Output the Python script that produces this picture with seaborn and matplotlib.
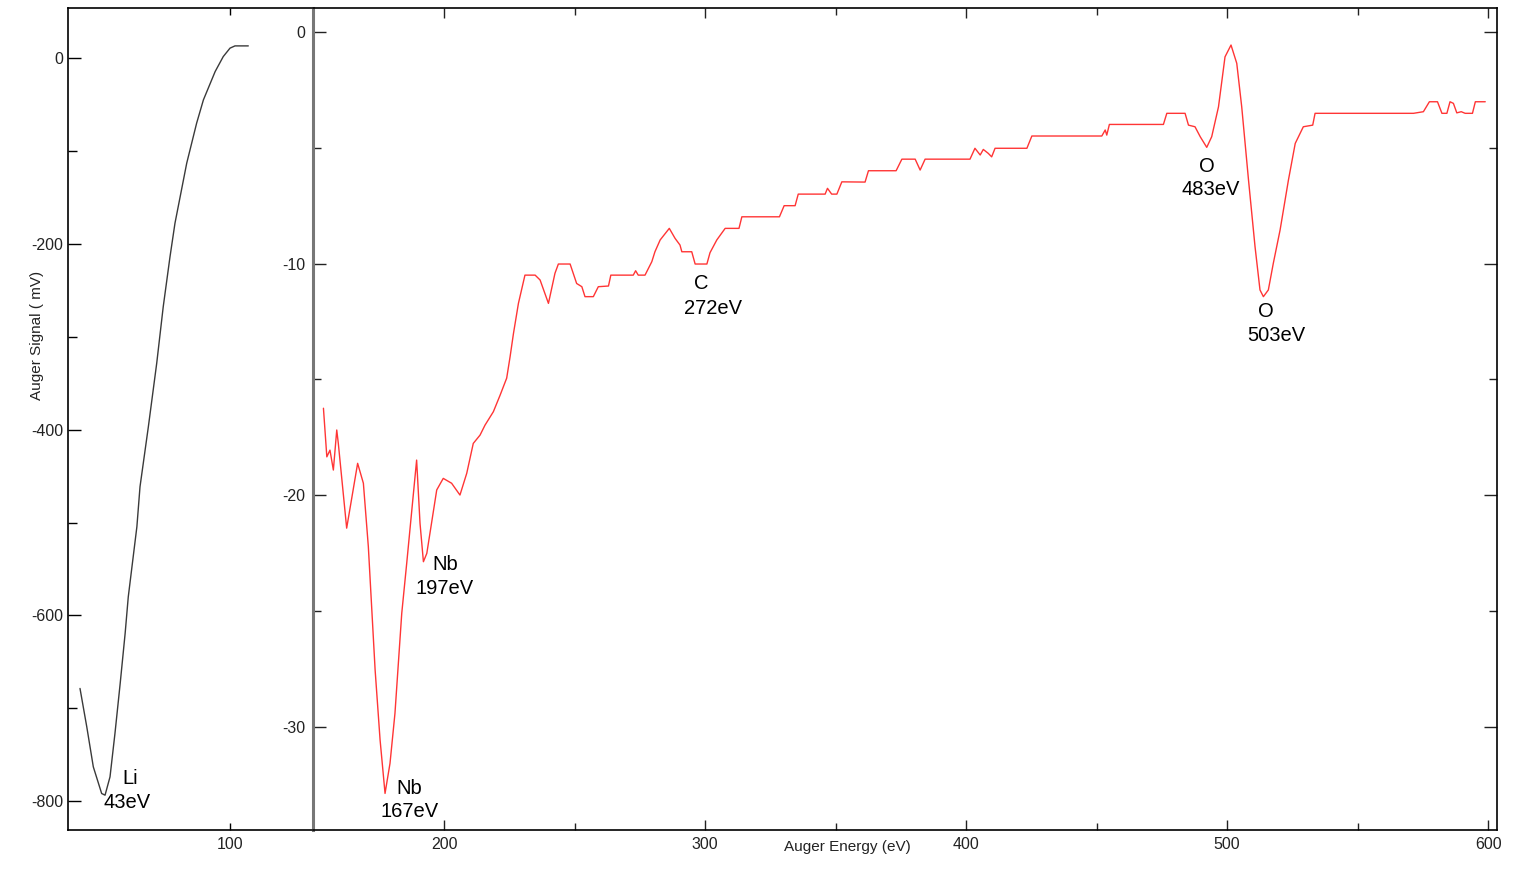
import matplotlib
matplotlib.use("Agg")
import matplotlib.pyplot as plt
from matplotlib.ticker import FixedLocator
import seaborn as sns

# Li region (eV, mV)
li_energy = [42.5, 45.1, 47.6, 50.8, 52.1, 54.0, 55.9, 57.9, 59.8, 61.0, 64.3, 65.5,
             68.7, 71.9, 74.4, 77.0, 78.9, 83.4, 87.2, 89.8, 94.3, 97.4, 100.0,
             101.9, 107.0]
li_signal = [-678.6, -720, -763, -791.7, -793.5, -773.8, -727, -673.2, -619.3, -580,
             -504.5, -461.4, -396.8, -328.5, -267.6, -213.7, -177.7, -113.1, -70,
             -44.9, -14.4, 1.7, 10.8, 13.2, 13.2]

# main spectrum, right panel (eV, mV)
energy = [153.8, 155.1, 156.3, 157.6, 158.9, 159.5, 162.7, 166.9, 169.1, 171.0,
          173.6, 175.5, 177.4, 179.3, 181.2, 183.8, 185.7, 189.5, 190.8, 192.1,
          193.4, 197.2, 199.7, 202.9, 206.1, 208.7, 211.2, 213.8, 215.7, 218.9,
          221.5, 224.0, 225.3, 226.6, 228.5, 231.0, 234.9, 236.8, 240.0, 242.5,
          243.8, 248.3, 250.8, 252.8, 254.0, 257.2, 259.1, 263.0, 263.9, 272.5,
          273.4, 274.4, 277.0, 279.6, 280.8, 282.8, 286.3, 288.5, 290.4, 291.1,
          294.9, 296.2, 300.7, 301.9, 304.5, 307.7, 313.0, 314.1, 328.5, 330.3,
          334.5, 335.7, 346.0, 346.9, 348.5, 350.5, 352.4, 361.3, 362.6, 373.2,
          375.4, 380.5, 382.4, 384.3, 401.5, 403.4, 405.4, 406.6, 408.5, 409.8,
          411.1, 423.3, 425.2, 452.0, 453.3, 453.9, 454.9, 475.6, 476.9, 483.9,
          485.2, 487.7, 489.7, 492.2, 494.1, 496.7, 499.2, 501.5, 503.7, 505.6,
          508.2, 510.7, 512.6, 513.9, 515.8, 517.7, 520.3, 523.5, 526.1, 529.2,
          532.8, 533.7, 571.4, 575.2, 577.5, 580.6, 582.3, 584.2, 585.4, 586.7,
          588.0, 589.7, 591.2, 594.0, 595.1, 598.9]
signal = [-16.25, -18.35, -18.06, -18.92, -17.19, -17.77, -21.43, -18.63, -19.49, -22.23,
          -27.56, -30.58, -32.89, -31.59, -29.43, -25.11, -22.95, -18.49, -21.22, -22.88,
          -22.52, -19.78, -19.28, -19.49, -20.0, -19.06, -17.77, -17.41, -16.98, -16.4,
          -15.68, -14.95, -14.03, -13.02, -11.72, -10.5, -10.5, -10.71, -11.72, -10.42,
          -10.02, -10.02, -10.86, -11.0, -11.43, -11.43, -11.0, -10.97, -10.5, -10.5,
          -10.31, -10.5, -10.5, -9.92, -9.49, -8.98, -8.48, -8.91, -9.2, -9.49,
          -9.49, -10.02, -10.02, -9.53, -8.98, -8.48, -8.48, -7.98, -7.98, -7.5,
          -7.5, -7.0, -7.0, -6.75, -7.0, -7.0, -6.47, -6.48, -5.99, -5.99,
          -5.49, -5.49, -5.96, -5.49, -5.49, -5.02, -5.31, -5.07, -5.24, -5.39,
          -5.02, -5.02, -4.49, -4.49, -4.23, -4.45, -3.99, -3.99, -3.51, -3.51,
          -4.02, -4.09, -4.52, -4.98, -4.52, -3.23, -1.07, -0.56, -1.35, -3.23,
          -6.39, -9.27, -11.14, -11.43, -11.14, -9.99, -8.55, -6.39, -4.81, -4.09,
          -4.02, -3.51, -3.51, -3.44, -3.01, -3.01, -3.51, -3.51, -3.01, -3.08,
          -3.49, -3.44, -3.51, -3.51, -3.01, -3.01]

# peak labels: one entry per text line
li_labels = [("Li", 61.7, -776), ("43eV", 60.4, -801)]
peak_labels = [("Nb", 186.5, -32.67), ("167eV", 186.9, -33.68),
               ("Nb", 200.3, -23.02), ("197eV", 200.3, -24.03),
               ("C", 298.7, -10.86), ("272eV", 302.9, -11.94),
               ("O", 492.2, -5.79), ("483eV", 493.8, -6.79),
               ("O", 514.9, -12.05), ("503eV", 518.8, -13.09)]

sns.set_theme(style="ticks")
plt.rcParams['font.family'] = ['Liberation Sans', 'DejaVu Sans']
plt.rcParams['axes.unicode_minus'] = False

W, H = 1540, 871
fig = plt.figure(figsize=(W / 100, H / 100), dpi=100)
ax1 = fig.add_axes([68 / W, 41 / H, 245 / W, 822 / H])
ax2 = fig.add_axes([313 / W, 41 / H, 1184 / W, 822 / H])

# left panel
sns.lineplot(x=li_energy, y=li_signal, ax=ax1, color="#3a3a3a", linewidth=1.0,
             estimator=None)
ax1.set_xlim(37.9, 131.8)
ax1.set_ylim(-831, 54)
ax1.set_xticks([100])
ax1.set_yticks([0, -200, -400, -600, -800])
ax1.yaxis.set_minor_locator(FixedLocator([-100, -300, -500, -700]))
ax1.tick_params(axis="y", which="major", direction="in", length=9.5, width=1,
                pad=3.5, labelsize=11.5, labelcolor="#222222", color="black")
ax1.tick_params(axis="y", which="minor", direction="in", length=6.5, width=1,
                left=True, color="black")
ax1.tick_params(axis="x", which="major", direction="in", length=5, width=1,
                top=True, bottom=True, pad=5, labelsize=11.5, labelcolor="#222222",
                color="black")
ax1.spines["right"].set_visible(False)
for s in ["left", "top", "bottom"]:
    ax1.spines[s].set_color("black")
    ax1.spines[s].set_linewidth(1.2)
for txt, x, y in li_labels:
    ax1.text(x, y, txt, ha="center", va="center", fontsize=14.5, color="black")

# right panel
sns.lineplot(x=energy, y=signal, ax=ax2, color="#ff3535", linewidth=1.0,
             estimator=None)
ax2.set_xlim(149.8, 603.4)
ax2.set_ylim(-34.47, 1.04)
ax2.set_xticks([200, 300, 400, 500, 600])
ax2.xaxis.set_minor_locator(FixedLocator([250, 350, 450, 550]))
ax2.set_yticks([0, -10, -20, -30])
ax2.yaxis.set_minor_locator(FixedLocator([-5, -15, -25]))
ax2.tick_params(axis="y", which="major", direction="in", length=9.5, width=1,
                left=True, right=True, pad=5.5, labelsize=11.5,
                labelcolor="#222222", color="#222222")
ax2.tick_params(axis="y", which="minor", direction="in", length=6,
                width=1, left=True, right=True, color="#222222")
ax2.tick_params(axis="x", which="major", direction="in", length=7.5, width=1,
                top=True, bottom=True, pad=5, labelsize=11.5,
                labelcolor="#222222", color="#222222")
ax2.tick_params(axis="x", which="minor", direction="in", length=5, width=1,
                top=True, bottom=True, color="#222222")
for s in ["right", "top", "bottom"]:
    ax2.spines[s].set_color("black")
    ax2.spines[s].set_linewidth(1.2)
ax2.spines["left"].set_color("#777777")
ax2.spines["left"].set_linewidth(2.2)
for txt, x, y in peak_labels:
    ax2.text(x, y, txt, ha="center", va="center", fontsize=14.5, color="black")

for ax in (ax1, ax2):
    ax.set_xlabel("")
    ax.set_ylabel("")

fig.text(37 / W, 1 - 335 / H, "Auger Signal ( mV)", rotation=90, ha="center",
         va="center", fontsize=11, color="#222222")
fig.text(847 / W, 1 - 847 / H, "Auger Energy (eV)", ha="center", va="center",
         fontsize=11, color="#222222")

fig.savefig("out.png", dpi=100)
